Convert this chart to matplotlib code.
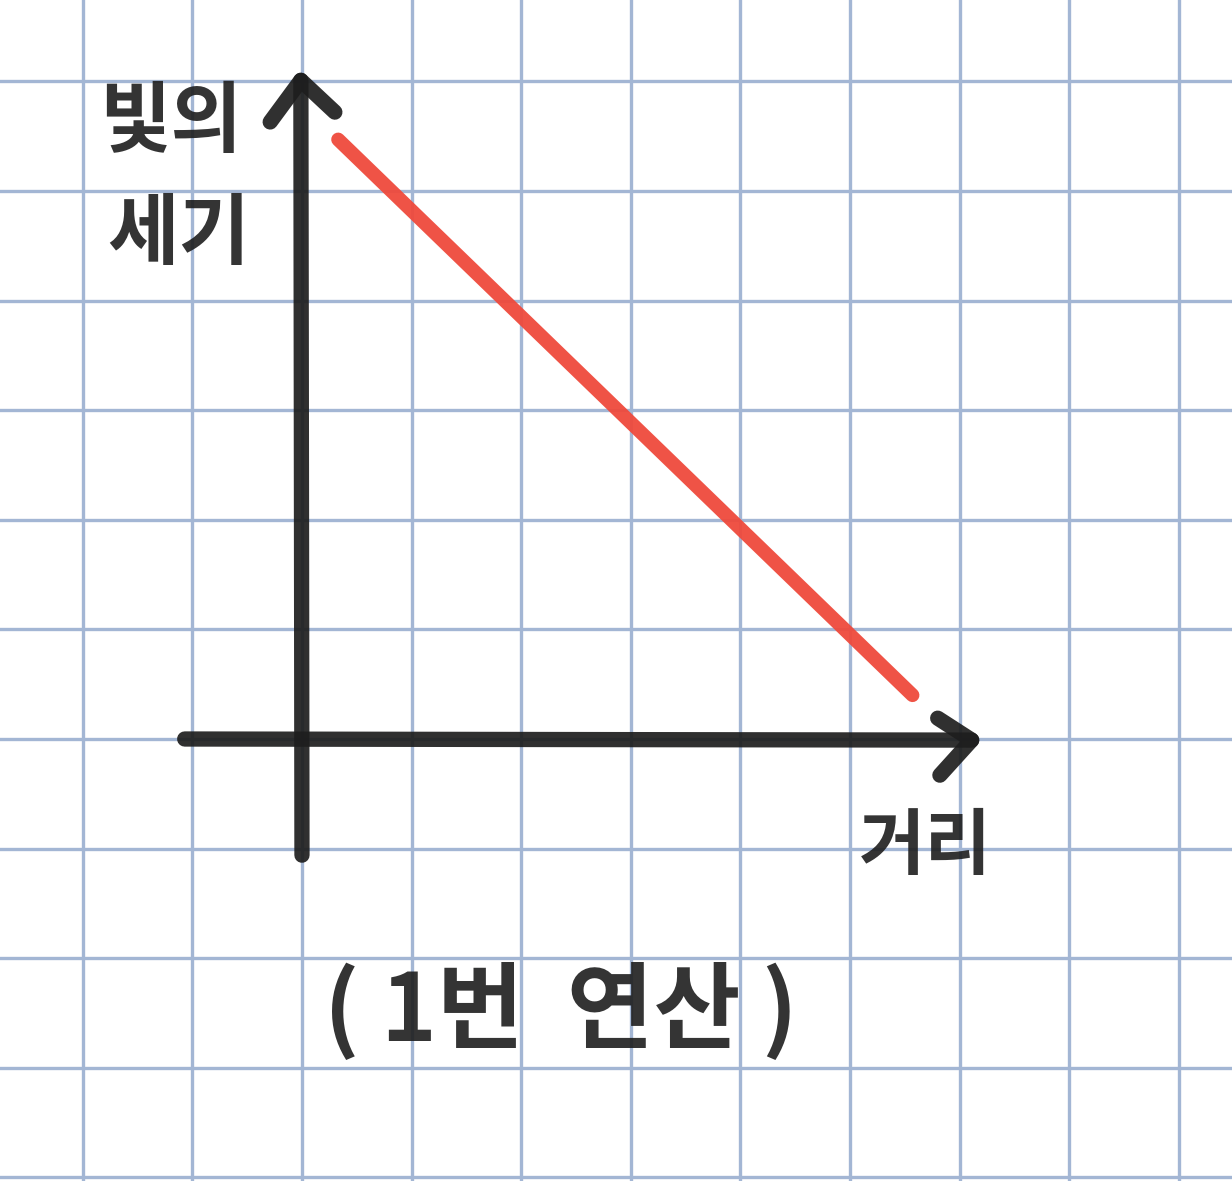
# Hand-drawn sketch: light intensity vs distance on grid paper

import numpy as np
import matplotlib.pyplot as plt

plt.rcParams['font.family'] = ['Noto Sans CJK KR', 'DejaVu Sans']

# Data (grid units, origin at axis crossing)
grid_x = list(range(-2, 9))
grid_y = list(range(-4, 7))
red_x = [0.33, 5.57]
red_y = [5.47, 0.40]
yaxis_x = [0.0, -0.01]
yaxis_y = [-1.06, 6.01]
xaxis_x = [-1.07, 6.11]
xaxis_y = [0.0, -0.01]
yhead_x = [-0.29, -0.01, 0.30]
yhead_y = [5.63, 6.01, 5.72]
xhead_x = [5.80, 6.11, 5.82]
xhead_y = [0.19, -0.01, -0.33]
ylabel_lines = ['빛의', '세기']
xlabel = '거리'
caption = '( 1번  연산 )'

fig = plt.figure(figsize=(12.32, 11.81), dpi=100)
ax = fig.add_axes([0, 0, 1, 1])
ax.set_xlim(-2.755, 8.485)
ax.set_ylim(-4.033, 6.743)
ax.axis('off')

grid_color = '#a3b6d4'
for gx in grid_x:
    ax.axvline(gx, color=grid_color, lw=2.4, zorder=1)
for gy in grid_y:
    ax.axhline(gy, color=grid_color, lw=2.4, zorder=1)

ink = '#1e1e1e'
kw = dict(color=ink, lw=11, solid_capstyle='round', solid_joinstyle='round', alpha=0.92, zorder=3)
ax.plot(yaxis_x, yaxis_y, **kw)
ax.plot(xaxis_x, xaxis_y, **kw)
ax.plot(yhead_x, yhead_y, **kw)
ax.plot(xhead_x, xhead_y, **kw)

ax.plot(red_x, red_y, color='#ef4a3c', lw=10, solid_capstyle='round', alpha=0.95, zorder=4)

tkw = dict(color=ink, fontweight='bold', ha='center', va='center', alpha=0.9, zorder=5)
ax.text(-1.20, 5.62, ylabel_lines[0], fontsize=56, **tkw)
ax.text(-1.12, 4.60, ylabel_lines[1], fontsize=56, **tkw)
ax.text(5.69, -0.99, xlabel, fontsize=52, **tkw)
ax.text(2.36, -2.49, caption, fontsize=68, **tkw)

plt.savefig('out.png', dpi=100)
